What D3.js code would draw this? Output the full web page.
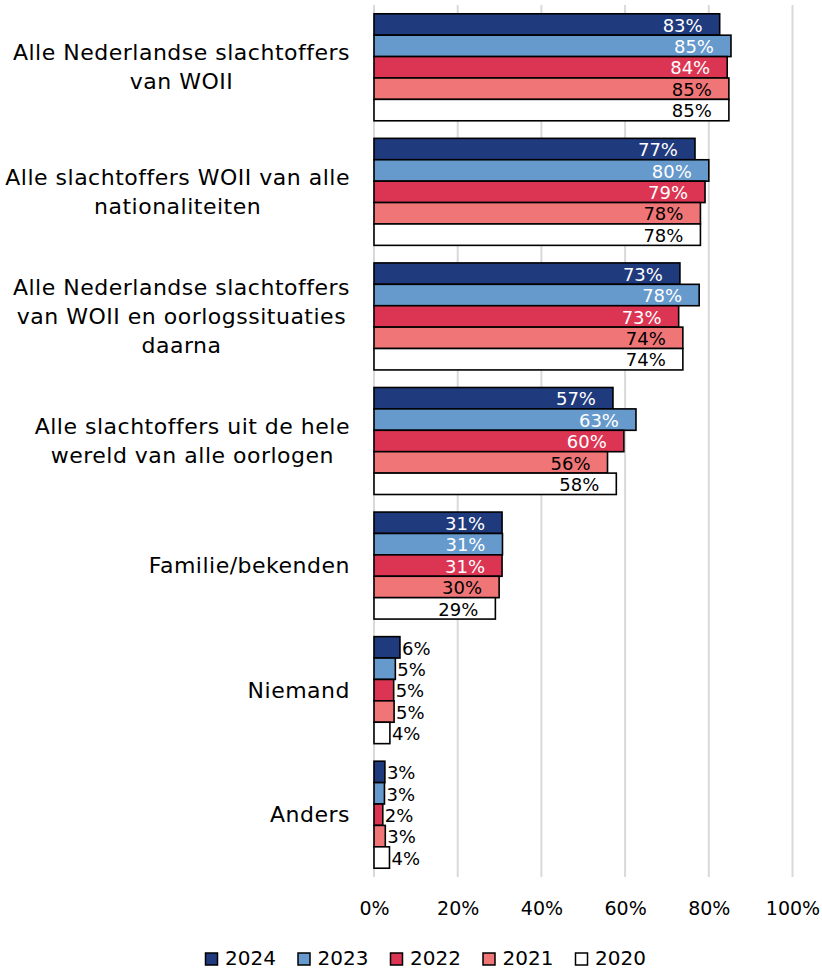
<!DOCTYPE html>
<html>
<head>
<meta charset="utf-8">
<script src="https://cdn.jsdelivr.net/npm/d3@7"></script>
<style>
  body { margin: 0; background: #fff; }
  text { font-family: "DejaVu Sans", sans-serif; }
</style>
</head>
<body>
<div id="chart"></div>
<script>
// categories (each entry is the wrapped label lines)
var categories = [
    ["Alle Nederlandse slachtoffers", "van WOII"],
    ["Alle slachtoffers WOII van alle", "nationaliteiten"],
    ["Alle Nederlandse slachtoffers", "van WOII en oorlogssituaties", "daarna"],
    ["Alle slachtoffers uit de hele", "wereld van alle oorlogen"],
    ["Familie/bekenden"],
    ["Niemand"],
    ["Anders"]
];
var years = ["2024", "2023", "2022", "2021", "2020"];

// series values, percent, one array per year
var v2024 = [82.6, 76.7, 73.1, 57.1, 30.6, 6.2, 2.6];
var v2023 = [85.3, 80.0, 77.7, 62.6, 30.7, 5.1, 2.5];
var v2022 = [84.4, 79.1, 72.8, 59.7, 30.6, 4.7, 2.1];
var v2021 = [84.8, 78.0, 73.8, 55.8, 29.9, 4.8, 2.7];
var v2020 = [84.8, 78.0, 73.8, 57.9, 29.0, 3.8, 3.7];

var xTicks = [0, 20, 40, 60, 80, 100];

var seriesValues = [v2024, v2023, v2022, v2021, v2020];
var fills = ["#1f3a7d", "#6699cc", "#dc3553", "#f07577", "#ffffff"];
var labelColors = ["#fff", "#fff", "#fff", "#000", "#000"];

var W = 822, H = 970,
    plotLeft = 374, plotRight = 792.5,
    plotTop = 5, plotBottom = 877;

var svg = d3.select("#chart").append("svg")
    .attr("width", W)
    .attr("height", H);

var x = d3.scaleLinear().domain([0, 100]).range([plotLeft, plotRight]);

var y = d3.scaleBand()
    .domain(d3.range(categories.length))
    .range([plotTop, plotBottom])
    .paddingInner(0.141)
    .paddingOuter(0.0705);

var yInner = d3.scaleBand()
    .domain(years)
    .range([0, y.bandwidth()]);

// gridlines
svg.append("g")
    .selectAll("line")
    .data(xTicks)
    .enter()
    .append("line")
    .attr("x1", function (d) { return x(d); })
    .attr("x2", function (d) { return x(d); })
    .attr("y1", plotTop)
    .attr("y2", plotBottom)
    .attr("stroke", "#d9d9d9")
    .attr("stroke-width", 2);

// x axis tick labels
var xAxis = svg.append("g")
    .attr("transform", "translate(0," + (plotBottom + 31) + ")")
    .call(d3.axisBottom(x).tickValues(xTicks).tickSize(0).tickPadding(0)
        .tickFormat(function (d) { return d + "%"; }));
xAxis.select(".domain").remove();
xAxis.selectAll("text")
    .attr("dy", "0.35em")
    .attr("font-size", 19)
    .attr("font-family", "DejaVu Sans, sans-serif")
    .attr("fill", "#000");

// bars, one group per year
var cells = [];
seriesValues.forEach(function (vals, s) {
    vals.forEach(function (v, c) {
        cells.push({ s: s, c: c, value: v });
    });
});

var bar = svg.append("g")
    .selectAll("g")
    .data(cells)
    .enter()
    .append("g")
    .attr("transform", function (d) {
        return "translate(0," + (y(d.c) + yInner(years[d.s])) + ")";
    });

bar.append("rect")
    .attr("x", x(0))
    .attr("y", 0)
    .attr("width", function (d) { return x(d.value) - x(0); })
    .attr("height", yInner.bandwidth())
    .attr("fill", function (d) { return fills[d.s]; })
    .attr("stroke", "#000")
    .attr("stroke-width", 1.6);

// data labels: inside end for long bars, outside end for short ones
bar.append("text")
    .attr("x", function (d) {
        return d.value > 15 ? x(d.value) - 17 : x(d.value) + 2;
    })
    .attr("y", yInner.bandwidth() / 2)
    .attr("dy", "0.4em")
    .attr("text-anchor", function (d) { return d.value > 15 ? "end" : "start"; })
    .attr("font-size", 18)
    .attr("fill", function (d) { return d.value > 15 ? labelColors[d.s] : "#000"; })
    .text(function (d) { return Math.round(d.value) + "%"; });

// category labels, lines centred in a block right-aligned at 350
var lineH = 29;
var catG = svg.append("g");
categories.forEach(function (lines, i) {
    var cy = y(i) + y.bandwidth() / 2;
    var t = catG.append("text")
        .attr("font-size", 22)
        .attr("letter-spacing", 0.5)
        .attr("fill", "#000");
    lines.forEach(function (ln, k) {
        t.append("tspan")
            .attr("y", cy + (k - (lines.length - 1) / 2) * lineH)
            .attr("dy", "0.35em")
            .text(ln);
    });
    var spans = t.selectAll("tspan").nodes();
    var maxW = d3.max(spans, function (n) { return n.getComputedTextLength(); });
    var centre = 350 - maxW / 2;
    t.selectAll("tspan")
        .attr("x", centre)
        .attr("text-anchor", "middle");
});

// legend
var legendX = [205, 297.5, 390, 482.5, 575];
var legend = svg.append("g")
    .selectAll("g")
    .data(years)
    .enter()
    .append("g")
    .attr("transform", function (d, i) { return "translate(" + legendX[i] + ",958)"; });

legend.append("rect")
    .attr("x", 0.5)
    .attr("y", -5)
    .attr("width", 12)
    .attr("height", 12)
    .attr("fill", function (d, i) { return fills[i]; })
    .attr("stroke", "#000")
    .attr("stroke-width", 1.5);

legend.append("text")
    .attr("x", 20)
    .attr("y", 0)
    .attr("dy", "0.35em")
    .attr("font-size", 20)
    .text(function (d) { return d; });
</script>
</body>
</html>
